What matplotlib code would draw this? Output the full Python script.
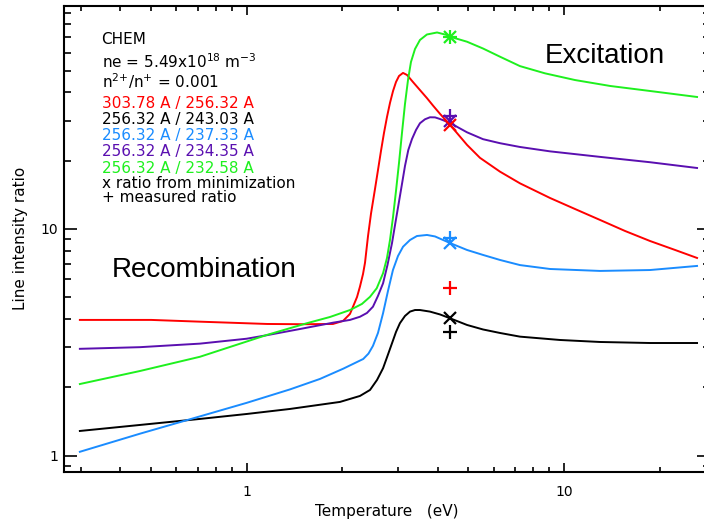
import numpy as np
import matplotlib
matplotlib.use("Agg")
import matplotlib.pyplot as plt
from matplotlib.ticker import LogLocator, NullFormatter, FixedLocator, FixedFormatter

# ---------------------------------------------------------------------------
# dados (temperatura em eV, razao de intensidade)

T_red = [0.298, 0.50, 0.712, 1.16, 1.50, 1.87, 2.012, 2.116, 2.163, 2.227,
         2.275, 2.326, 2.36, 2.385, 2.412, 2.465, 2.537, 2.593, 2.650, 2.708,
         2.768, 2.829, 2.892, 2.955, 3.020, 3.109, 3.201, 3.342, 3.516, 3.698,
         3.867, 4.067, 4.373, 4.947, 5.435, 6.285, 7.265, 9.036, 10.83, 12.99,
         15.57, 18.67, 22.39, 26.26]
r_red = [3.97, 3.97, 3.90, 3.81, 3.80, 3.81, 3.93, 4.22, 4.54, 5.01,
         5.57, 6.33, 7.10, 8.10, 9.31, 11.7, 15.0, 18.2, 22.1, 26.5,
         31.2, 36.0, 40.6, 44.5, 47.3, 48.8, 47.8, 44.5, 41.0, 37.8,
         35.0, 32.2, 28.8, 23.5, 20.6, 17.9, 15.9, 13.7, 12.25, 10.96,
         9.80, 8.85, 8.08, 7.45]

T_black = [0.298, 0.461, 0.712, 1.0, 1.369, 1.968, 2.275, 2.447, 2.575, 2.69,
           2.778, 2.87, 2.955, 3.04, 3.154, 3.271, 3.392, 3.516, 3.781, 4.067,
           4.373, 4.947, 5.556, 6.285, 7.265, 9.714, 12.99, 18.67, 26.26]
r_black = [1.285, 1.366, 1.452, 1.527, 1.607, 1.726, 1.834, 1.949, 2.158, 2.43,
           2.754, 3.13, 3.513, 3.84, 4.133, 4.32, 4.39, 4.39, 4.32, 4.197,
           4.037, 3.772, 3.603, 3.477, 3.35, 3.238, 3.173, 3.14, 3.14]

T_blue = [0.298, 0.461, 0.712, 1.0, 1.369, 1.702, 2.016, 2.33, 2.42, 2.50,
          2.593, 2.69, 2.788, 2.89, 2.998, 3.11, 3.271, 3.44, 3.70, 3.922,
          4.373, 4.947, 5.56, 6.285, 7.265, 9.036, 12.99, 18.67, 26.26]
r_blue = [1.04, 1.25, 1.49, 1.71, 1.96, 2.18, 2.42, 2.67, 2.82, 3.05,
          3.48, 4.25, 5.33, 6.59, 7.60, 8.35, 8.94, 9.31, 9.41, 9.27,
          8.67, 8.08, 7.68, 7.30, 6.93, 6.66, 6.53, 6.59, 6.87]

T_purple = [0.298, 0.461, 0.712, 1.0, 1.159, 1.472, 1.871, 2.116, 2.275, 2.393,
            2.50, 2.593, 2.69, 2.778, 2.87, 2.934, 3.00, 3.086, 3.154, 3.231,
            3.319, 3.417, 3.516, 3.646, 3.781, 3.922, 4.067, 4.373, 4.947, 5.556,
            6.285, 7.265, 9.036, 12.99, 18.67, 26.26]
r_purple = [2.96, 3.01, 3.12, 3.28, 3.40, 3.62, 3.86, 3.97, 4.10, 4.26,
            4.54, 5.07, 5.76, 6.94, 8.65, 10.41, 12.5, 15.79, 18.96, 22.31,
            24.95, 27.34, 29.27, 30.47, 31.10, 31.07, 30.56, 29.35, 26.7, 24.9,
            23.9, 23.0, 22.0, 20.8, 19.7, 18.58]

T_green = [0.298, 0.461, 0.712, 1.159, 1.549, 1.830, 2.117, 2.308, 2.447, 2.569,
           2.69, 2.768, 2.829, 2.892, 2.955, 3.020, 3.086, 3.154, 3.224, 3.294,
           3.392, 3.516, 3.698, 3.981, 4.272, 4.373, 4.947, 5.556, 6.285, 7.265,
           8.711, 10.83, 14.0, 18.67, 26.26]
r_green = [2.07, 2.363, 2.73, 3.41, 3.84, 4.09, 4.39, 4.67, 5.02, 5.475,
           6.38, 7.45, 8.94, 11.30, 14.72, 19.55, 26.51, 35.60, 45.43, 54.54,
           62.23, 68.2, 72.1, 73.6, 71.75, 70.5, 67.0, 62.54, 57.54, 52.3,
           48.6, 45.4, 42.73, 40.62, 38.22]

# razoes medidas (+) e da minimizacao (x), todas em T = 4.37 eV
T_mark = 4.37
meas = {"red": 5.47, "black": 3.52, "blue": 9.16, "purple": 31.6, "green": 70.5}
mini = {"red": 28.8, "black": 4.03, "blue": 8.65, "purple": 30.0, "green": 70.5}

ratio_labels = ["303.78 A / 256.32 A", "256.32 A / 243.03 A",
                "256.32 A / 237.33 A", "256.32 A / 234.35 A",
                "256.32 A / 232.58 A"]
info_lines = ["CHEM",
              r"ne = 5.49x10$^{18}$ m$^{-3}$",
              r"n$^{2{+}}$/n$^{+}$ = 0.001"]
note_lines = ["x ratio from minimization", "+ measured ratio"]

cores = {"red": "#ff0000", "black": "#000000", "blue": "#1a8cff",
         "purple": "#5a0fb0", "green": "#1ef01e"}

# ---------------------------------------------------------------------------

W, H = 704, 523
fig = plt.figure(figsize=(W / 100, H / 100), dpi=100)
ax = fig.add_axes([64 / W, 1 - 472 / H, (710 - 64) / W, (472 - 5.7) / H])

lw = 1.4
ax.plot(T_red, r_red, color=cores["red"], lw=lw)
ax.plot(T_black, r_black, color=cores["black"], lw=lw)
ax.plot(T_blue, r_blue, color=cores["blue"], lw=lw)
ax.plot(T_purple, r_purple, color=cores["purple"], lw=lw)
ax.plot(T_green, r_green, color=cores["green"], lw=lw)

for c in ["purple", "green", "blue", "black", "red"]:
    ax.plot([T_mark], [meas[c]], marker="+", ms=10, mew=1.6, color=cores[c], ls="none")
    ax.plot([T_mark], [mini[c]], marker="x", ms=8, mew=1.6, color=cores[c], ls="none")

ax.set_xscale("log")
ax.set_yscale("log")
ax.set_xlim(0.2656, 28.85)
ax.set_ylim(0.847, 96.6)

ax.xaxis.set_major_locator(FixedLocator([1, 10]))
ax.xaxis.set_major_formatter(FixedFormatter(["1", "10"]))
ax.xaxis.set_minor_locator(LogLocator(base=10, subs=np.arange(2, 10)))
ax.xaxis.set_minor_formatter(NullFormatter())
ax.yaxis.set_major_locator(FixedLocator([1, 10]))
ax.yaxis.set_major_formatter(FixedFormatter(["1", "10"]))
ax.yaxis.set_minor_locator(LogLocator(base=10, subs=np.arange(2, 10)))
ax.yaxis.set_minor_formatter(NullFormatter())

ax.tick_params(axis="x", which="major", direction="in", length=6.7, width=1.2,
               top=True, pad=9, labelsize=10)
ax.tick_params(axis="x", which="minor", direction="in", length=3.3, width=1.2, top=True)
ax.tick_params(axis="y", which="major", direction="in", length=9.3, width=1.2,
               right=True, pad=4, labelsize=10)
ax.tick_params(axis="y", which="minor", direction="in", length=4.7, width=1.2, right=True)
for s in ax.spines.values():
    s.set_linewidth(1.5)

ax.set_xlabel("Temperature   (eV)", fontsize=11)
ax.set_ylabel("Line intensity ratio", fontsize=11)
ax.xaxis.set_label_coords(0.5, -0.068)
ax.yaxis.set_label_coords(-0.056, 0.5)

# texto da legenda, posicoes em pixels
x0 = 101.5 / W
base = [44.5, 67.5, 87.5]
for txt, y in zip(info_lines, base):
    fig.text(x0, 1 - y / H, txt, fontsize=11, va="baseline")
base_r = [108, 124, 140, 156.3, 172.5]
for txt, c, y in zip(ratio_labels, ["red", "black", "blue", "purple", "green"], base_r):
    fig.text(x0, 1 - y / H, txt, fontsize=11, va="baseline", color=cores[c])
for txt, y in zip(note_lines, [188.5, 202.5]):
    fig.text(x0, 1 - y / H, txt, fontsize=11, va="baseline")

fig.text(605 / W, 1 - 63 / H, "Excitation", fontsize=20, family="Liberation Sans",
         ha="center", va="baseline")
fig.text(204 / W, 1 - 277 / H, "Recombination", fontsize=20, family="Liberation Sans",
         ha="center", va="baseline")

plt.savefig("out.png", dpi=100)
